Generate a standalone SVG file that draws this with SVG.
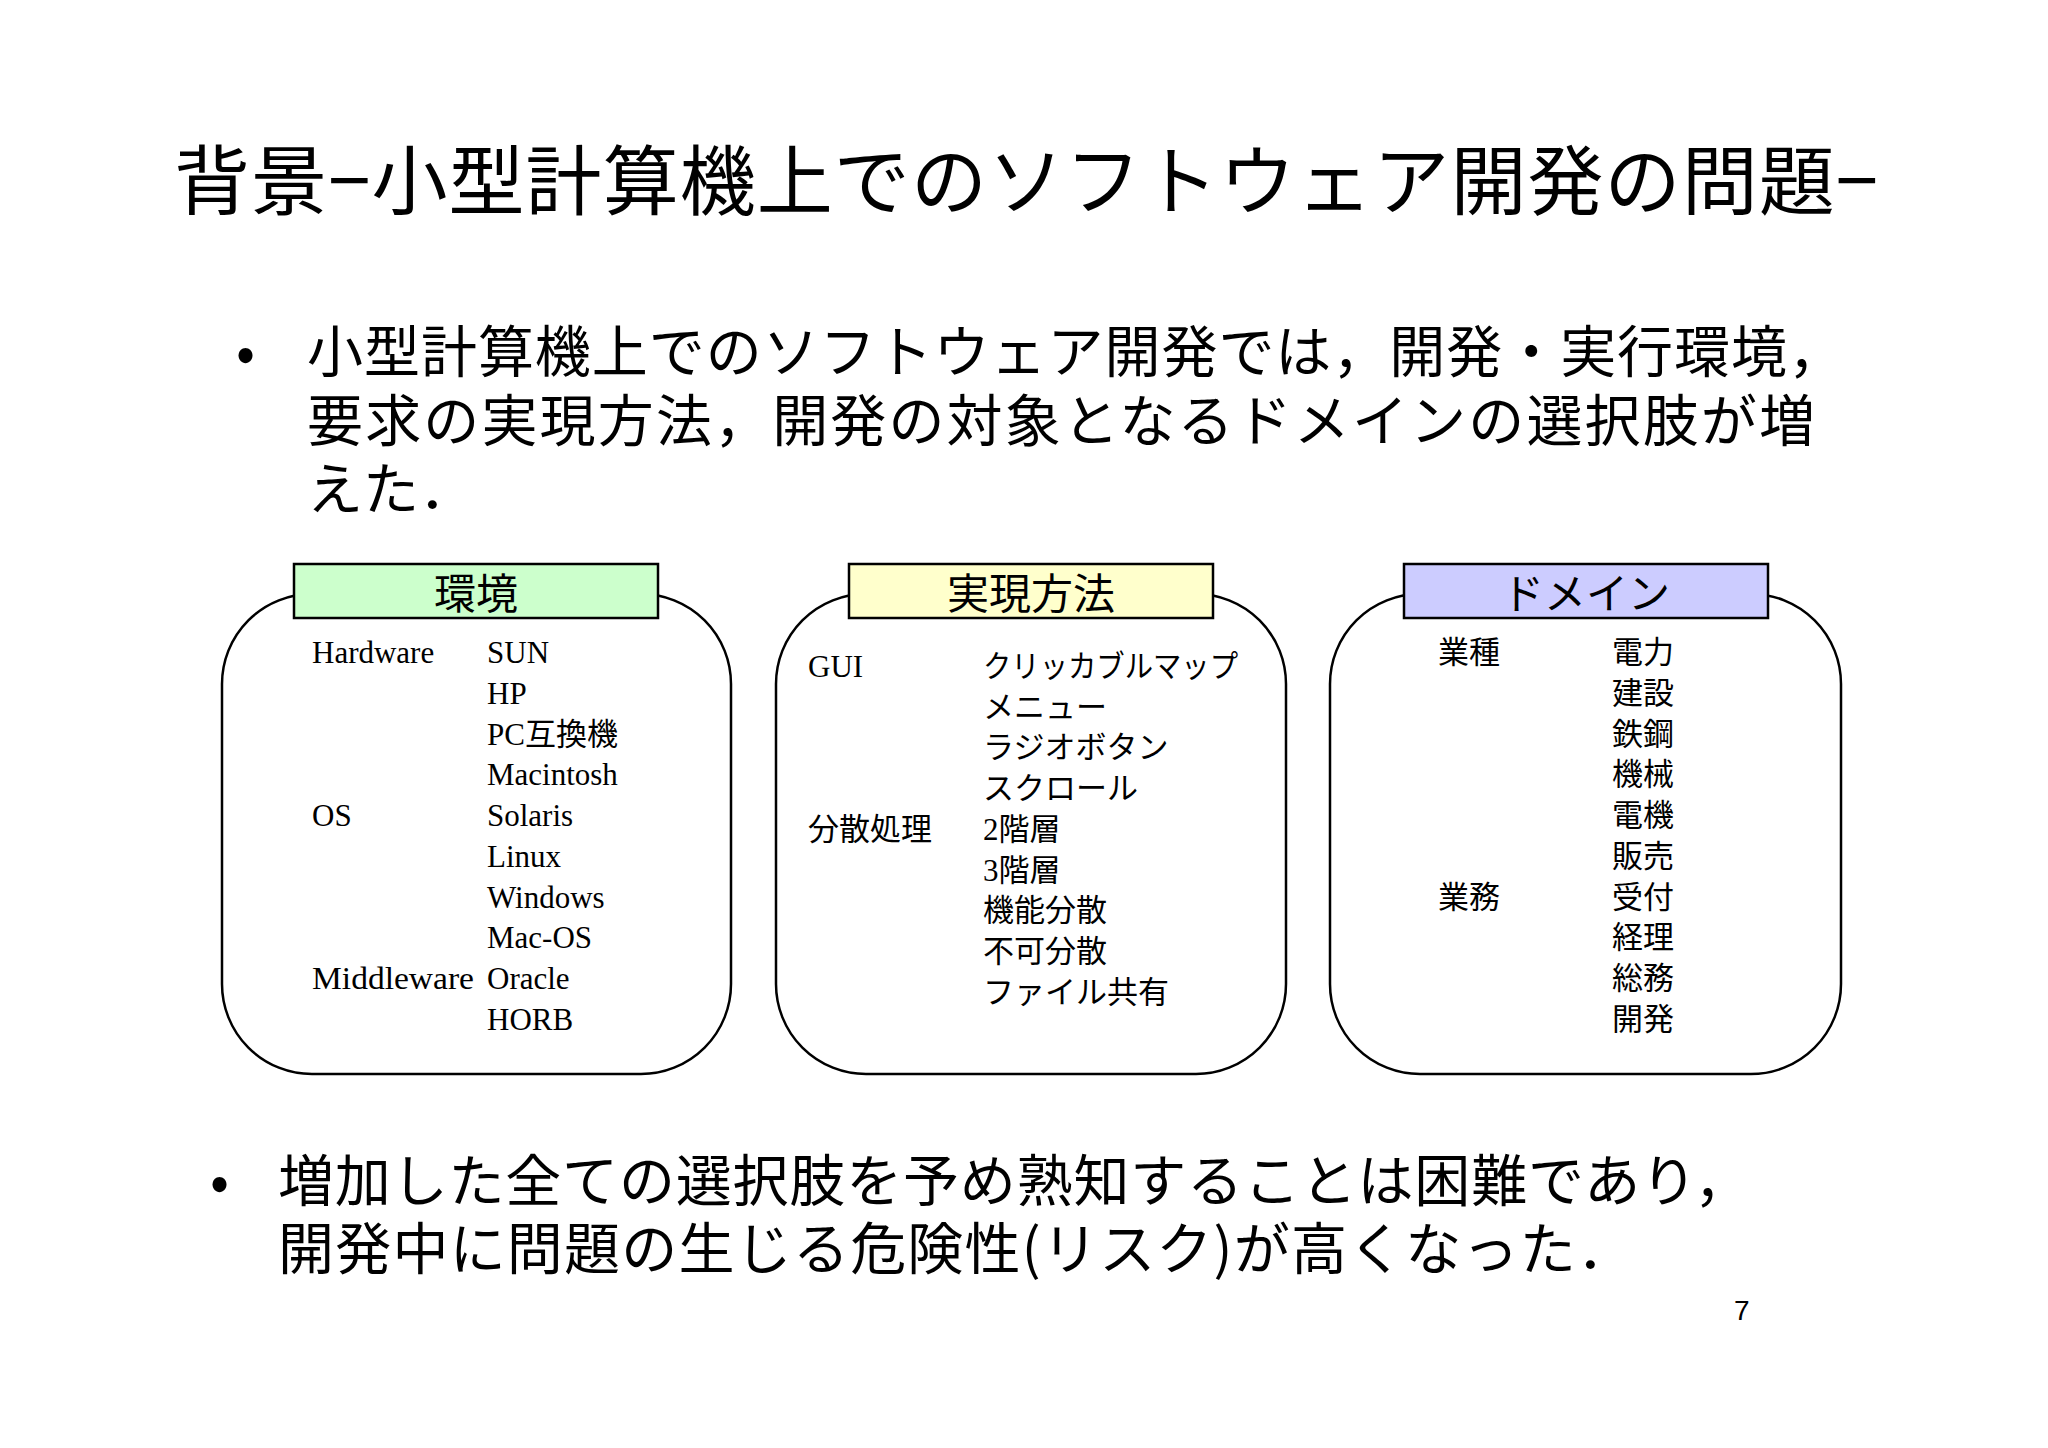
<svg xmlns="http://www.w3.org/2000/svg" width="2048" height="1448" viewBox="0 0 2048 1448">
<style>
.t{font-family:"Noto Sans CJK JP",sans-serif;fill:#000}
.c{font-family:"Liberation Serif","Noto Sans CJK JP",serif;font-size:31px;fill:#000}
.box{fill:#fff;stroke:#000;stroke-width:2.5}
.lab{stroke:#000;stroke-width:2.5}
.lt{font-family:"Noto Sans CJK JP",sans-serif;font-size:42px;text-anchor:middle}
</style>
<rect width="2048" height="1448" fill="#fff"/>
<text class="t" x="174" y="209" font-size="76" textLength="1704">背景−小型計算機上でのソフトウェア開発の問題−</text>
<g id="bullet1" class="t" font-size="56">
<text x="236" y="372">•</text>
<text x="307" y="372" textLength="1537">小型計算機上でのソフトウェア開発では，開発・実行環境，</text>
<text x="307" y="441" textLength="1508">要求の実現方法，開発の対象となるドメインの選択肢が増</text>
<text x="307" y="509">えた．</text>
</g>
<g id="env">
<rect class="box" x="222" y="594" width="509" height="480" rx="90"/>
<rect class="lab" x="294" y="564" width="364" height="54" fill="#ccffcc"/>
<text class="lt" x="476" y="609">環境</text>
<text class="c" x="312" y="663">Hardware</text>
<text class="c" x="312" y="826">OS</text>
<text class="c" x="312" y="989" textLength="162" lengthAdjust="spacingAndGlyphs">Middleware</text>
<g class="c"><text x="487" y="663">SUN</text><text x="487" y="704">HP</text><text x="487" y="745">PC互換機</text><text x="487" y="785">Macintosh</text><text x="487" y="826">Solaris</text><text x="487" y="867">Linux</text><text x="487" y="908">Windows</text><text x="487" y="948">Mac-OS</text><text x="487" y="989">Oracle</text><text x="487" y="1030">HORB</text></g>
</g>
<g id="method">
<rect class="box" x="776" y="594" width="510" height="480" rx="90"/>
<rect class="lab" x="849" y="564" width="364" height="54" fill="#ffffcc"/>
<text class="lt" x="1031" y="609">実現方法</text>
<text class="c" x="808" y="677">GUI</text>
<text class="c" x="808" y="840">分散処理</text>
<g class="c"><text x="983" y="677" textLength="255" lengthAdjust="spacingAndGlyphs">クリッカブルマップ</text><text x="983" y="718">メニュー</text><text x="983" y="758">ラジオボタン</text><text x="983" y="799">スクロール</text><text x="983" y="840">2階層</text><text x="983" y="881">3階層</text><text x="983" y="921">機能分散</text><text x="983" y="962">不可分散</text><text x="983" y="1003">ファイル共有</text></g>
</g>
<g id="domain">
<rect class="box" x="1330" y="594" width="511" height="480" rx="90"/>
<rect class="lab" x="1404" y="564" width="364" height="54" fill="#ccccff"/>
<text class="lt" x="1586" y="609">ドメイン</text>
<text class="c" x="1438" y="663">業種</text>
<text class="c" x="1438" y="908">業務</text>
<g class="c"><text x="1612" y="663">電力</text><text x="1612" y="704">建設</text><text x="1612" y="745">鉄鋼</text><text x="1612" y="785">機械</text><text x="1612" y="826">電機</text><text x="1612" y="867">販売</text><text x="1612" y="908">受付</text><text x="1612" y="948">経理</text><text x="1612" y="989">総務</text><text x="1612" y="1030">開発</text></g>
</g>
<g id="connectors"/>
<g id="bullet2" class="t" font-size="56">
<text x="210" y="1201">•</text>
<text x="278" y="1201" textLength="1472">増加した全ての選択肢を予め熟知することは困難であり，</text>
<text x="278" y="1269" textLength="1355">開発中に問題の生じる危険性(リスク)が高くなった．</text>
</g>
<text x="1734" y="1320" font-family="Liberation Sans,sans-serif" font-size="28">7</text>
</svg>
